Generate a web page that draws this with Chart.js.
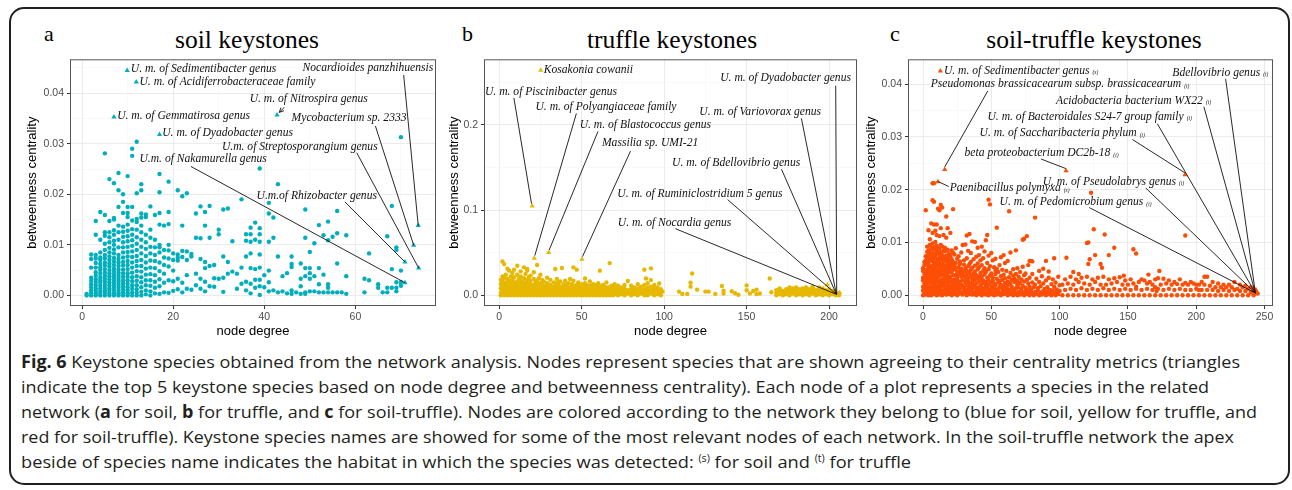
<!DOCTYPE html>
<html>
<head>
<meta charset="utf-8">
<script src="https://cdn.jsdelivr.net/npm/chart.js@4.4.1/dist/chart.umd.min.js"></script>
<style>
  body { margin: 0; background: #fff; width: 1292px; height: 490px; position: relative; overflow: hidden; }
  .frame { position: absolute; left: 9px; top: 7px; width: 1277px; height: 474px; border: 2px solid #231f20; border-radius: 15px; }
  canvas { position: absolute; }
  .title, .letter { position: absolute; font-family: "Liberation Serif", "Times New Roman", serif; color: #000; line-height: 1; white-space: nowrap; }
  .title { font-size: 25.5px; transform: translateX(-50%); top: 27px; }
  .letter { font-size: 22px; top: 23px; }
  .cap { position: absolute; left: 21px; font-family: "Open Sans", "Liberation Sans", sans-serif; font-size: 17px; line-height: 1; color: #231f20; white-space: nowrap; transform-origin: 0 0; }
  .cap sup { font-size: 10px; vertical-align: 6px; line-height: 0; }
</style>
</head>
<body>
<div class="frame"></div>

<div class="letter" style="left:44px">a</div>
<div class="letter" style="left:462px">b</div>
<div class="letter" style="left:890px">c</div>
<div class="title" style="left:247px">soil keystones</div>
<div class="title" style="left:672px">truffle keystones</div>
<div class="title" style="left:1094px">soil-truffle keystones</div>

<canvas id="soilChart" width="415" height="289" style="left:25px;top:50px"></canvas>
<canvas id="truffleChart" width="414" height="289" style="left:447px;top:50px"></canvas>
<canvas id="stChart" width="413" height="289" style="left:864px;top:50px"></canvas>

<div class="cap" style="top:353px" data-w="1219"><b>Fig. 6</b> Keystone species obtained from the network analysis. Nodes represent species that are shown agreeing to their centrality metrics (triangles</div>
<div class="cap" style="top:378px" data-w="1188">indicate the top 5 keystone species based on node degree and betweenness centrality). Each node of a plot represents a species in the related</div>
<div class="cap" style="top:403px" data-w="1236">network (<b>a</b> for soil, <b>b</b> for truffle, and <b>c</b> for soil-truffle). Nodes are colored according to the network they belong to (blue for soil, yellow for truffle, and</div>
<div class="cap" style="top:428px" data-w="1213">red for soil-truffle). Keystone species names are showed for some of the most relevant nodes of each network. In the soil-truffle network the apex</div>
<div class="cap" style="top:453px" data-w="890">beside of species name indicates the habitat in which the species was detected: <sup>(s)</sup> for soil and <sup>(t)</sup> for truffle</div>

<script>
// node degree, [betweenness centrality values x 1e-3]
const soilColumns = [
  [1, [0, 0.3]],
  [2, [0, 0.5, 1.0, 1.6, 2.2, 2.9, 3.5, 5.5, 7.2, 8.1]],
  [3, [0, 0.4, 0.9, 1.4, 2.0, 2.6, 3.2, 3.9, 4.6, 5.5, 6.4, 7.3, 8.0, 12.0, 14.7]],
  [4, [0, 0.3, 0.8, 1.3, 1.9, 2.5, 3.0, 3.6, 4.3, 5.0, 5.5, 6.2, 7.0, 7.5, 8.5, 11.0, 16.5]],
  [5, [0, 0.5, 1.0, 1.5, 2.1, 2.7, 3.3, 3.9, 4.5, 5.2, 5.9, 6.5, 7.3, 8.0, 9.0, 10.2, 11.8, 12.5, 15.9, 28.1]],
  [6, [0, 0.4, 0.9, 1.4, 2.0, 2.6, 3.2, 3.8, 4.4, 5.0, 5.7, 6.3, 7.0, 7.7, 8.5, 9.4, 10.5, 11.5, 12.5, 14.7, 23.0]],
  [7, [0, 0.5, 1.1, 1.7, 2.3, 2.9, 3.5, 4.1, 4.7, 5.3, 6.0, 6.7, 7.4, 8.3, 9.1, 10.0, 10.8, 12.0, 12.9, 15.0, 15.3, 22.2]],
  [8, [0, 0.4, 0.9, 1.5, 2.1, 2.7, 3.3, 3.9, 4.5, 5.1, 5.8, 6.5, 7.2, 8.0, 9.5, 11.0, 12.5, 13.8, 17.5, 20.8, 24.2]],
  [9, [0, 0.6, 1.2, 1.8, 2.4, 3.0, 3.7, 4.4, 5.1, 5.9, 6.6, 7.5, 8.5, 9.5, 10.5, 11.6, 12.6, 13.6, 16.3, 18.5, 20.0]],
  [10, [0, 0.4, 1.0, 1.6, 2.3, 3.0, 3.7, 4.4, 5.2, 6.0, 6.8, 7.7, 8.6, 9.6, 10.7, 11.7, 12.8, 14.0, 15.5, 16.3, 17.5, 23.6]],
  [11, [0, 0.6, 1.3, 2.0, 2.8, 3.6, 4.5, 5.5, 6.5, 7.6, 8.7, 9.8, 10.9, 12.0, 13.1, 14.8, 17.5, 27.6, 29.0]],
  [12, [0, 0.5, 1.2, 2.0, 2.9, 3.8, 4.8, 5.8, 6.8, 7.8, 9.0, 10.2, 11.5, 13.0, 14.5, 15.1, 20.2, 30.4]],
  [13, [0, 0.7, 1.6, 2.6, 3.6, 4.7, 5.8, 7.0, 8.3, 9.6, 11.0, 12.5, 13.8, 15.4, 16.2, 20.8, 22.0]],
  [14, [0.2, 1.0, 2.0, 3.0, 4.1, 5.3, 6.5, 7.8, 9.2, 10.5, 12.0, 15.5, 16.0]],
  [15, [0, 0.8, 1.9, 3.0, 4.2, 5.5, 6.9, 8.3, 9.6, 11.4, 13.0, 17.6]],
  [16, [0.4, 1.5, 2.7, 4.0, 5.4, 6.8, 8.0, 9.5, 11.0, 15.9]],
  [17, [0.3, 1.8, 3.2, 4.8, 6.5, 8.5, 9.5, 10.0, 14.0, 16.3, 20.4, 24.0]],
  [18, [0.6, 2.5, 4.3, 6.0, 7.5, 9.0, 13.8]],
  [19, [0.5, 3.0, 5.7, 7.3, 8.9, 10.0, 14.1, 16.5, 22.5]],
  [20, [0.9, 2.8, 4.9, 7.0, 8.3]],
  [21, [1.2, 3.3, 6.9, 7.5, 8.1, 20.8]],
  [22, [0.6, 2.5, 7.6, 8.8, 13.8, 19.6]],
  [23, [1.3, 4.0, 7.0, 8.7, 20.2]],
  [24, [1.1, 7.7, 8.2]],
  [25, [2.0, 4.3, 11.4, 16.2]],
  [26, [1.3, 3.3, 7.2, 11.3, 17.6]],
  [27, [0.8, 2.7, 5.4, 6.6, 13.8, 16.5]],
  [28, [1.8, 5.8, 11.4, 17.7]],
  [29, [1.7, 3.4, 6.0]],
  [30, [3.3, 12.1, 13.0]],
  [31, [0.7, 3.5, 7.7, 17.0]],
  [32, [4.3, 6.6, 17.2]],
  [33, [4.7, 10.7]],
  [34, [4.3, 1.3]],
  [35, [19.0, 5.5, 2.3]],
  [36, [12.1, 10.8, 7.7, 2.7, 1.0]],
  [37, [13.4, 12.1, 10.6, 8.3, 5.4, 2.3, 0.4]],
  [38, [14.4, 11.0, 5.2, 3.1, 1.5]],
  [39, [25.1, 13.3, 12.1, 10.6, 8.1, 5.5, 3.1, 1.8, 0.1]],
  [40, [1.6, 4.0]],
  [41, [18.3, 16.2, 10.6, 4.9, 2.6, 0.8]],
  [42, [15.4, 11.4, 1.0]],
  [43, [22.0, 7.7, 0.6]],
  [44, [3.8, 0.8]],
  [45, [4.4, 0.4]],
  [46, [7.7, 6.2, 5.6, 1.0, 0.3]],
  [47, [0.6]],
  [48, [6.3, 3.3, 1.8, 0.3]],
  [49, [17.0, 11.4, 5.4, 3.8, 0.6, 0.3]],
  [50, [8.6, 5.4, 4.4, 3.3, 0.8]],
  [51, [10.3, 3.8, 0.8]],
  [52, [13.9, 5.4, 2.2, 0.6]],
  [53, [11.9, 4.1, 0.6]],
  [54, [14.6, 10.9, 2.2, 1.5, 0.6]],
  [55, [11.6, 0.6]],
  [56, [16.7, 12.3, 6.3, 0.6]],
  [57, [0.6]],
  [58, [11.9, 3.8, 0.3]],
  [62, [3.3, 0.6]],
  [63, [8.3, 3.0]],
  [65, [2.2, 1.5]],
  [66, [0.6]],
  [67, [11.7, 1.5, 0.6]],
  [68, [17.7, 5.2, 1.5]],
  [69, [9.5, 9.0, 2.6, 1.5, 0.8]],
  [70, [31.3, 4.9, 2.6, 1.9]]
];
const soilKeystones = [[9.9, 44.5], [11.9, 42.2], [7.0, 35.3], [17.0, 31.8], [42.8, 35.7],
  [73.8, 13.8], [72.8, 9.9], [73.9, 5.4], [70.9, 6.6], [70.9, 2.5]];

const truffleColumns = [
  [1, [0, 3, 8, 13, 18]], [2, [1, 5, 10, 16, 22, 39.6]], [3, [0, 4, 7, 12, 20, 36.5]], [4, [2, 6, 9, 15, 24]],
  [5, [0, 3, 8, 13, 19, 31]], [6, [1, 5, 11, 17, 28.8]], [7, [0, 4, 7, 10, 14, 22]], [8, [2, 6, 12, 18, 26]],
  [9, [0, 3, 9, 15, 21, 30]], [10, [1, 5, 8, 13]], [11, [0, 4, 10, 16, 24, 34.6]], [12, [2, 7, 12, 19]],
  [13, [0, 3, 6, 9, 14, 22, 28]], [14, [1, 5, 11, 17]], [15, [0, 4, 8, 13, 20, 32.7]], [16, [2, 6, 10, 15, 25]],
  [17, [0, 3, 7, 12, 18, 29, 30.8]], [18, [1, 5, 9, 14, 21]], [19, [0, 4, 8, 13, 17, 23]], [20, [2, 6, 10]],
  [21, [0, 3, 7, 12, 19, 27]], [22, [1, 5, 9, 15]], [23, [0, 4, 8, 11, 17, 35.4]], [24, [2, 6, 13, 20]],
  [25, [0, 3, 9, 14, 24]], [26, [1, 5, 8, 12, 18]], [27, [0, 4, 10, 16]], [28, [2, 6, 11]],
  [29, [0, 3, 8, 14, 20.6]], [30, [1, 5, 9, 13]], [31, [0, 4, 7, 12, 18]], [32, [2, 6, 10]],
  [33, [0, 3, 8, 15]], [34, [1, 5, 11, 30.8]], [35, [0, 4, 9, 14, 19]], [36, [2, 7, 12]],
  [37, [0, 3, 6, 10, 16]], [38, [1, 5, 9, 32]], [39, [0, 4, 8, 13]], [40, [2, 6, 11, 17]],
  [41, [0, 3, 7, 12]], [42, [1, 5, 9, 14]], [43, [0, 4, 8, 19]], [44, [2, 6, 10, 13]],
  [45, [0, 3, 7, 11, 17, 32.7]], [46, [1, 5, 9]], [47, [0, 4, 8, 12, 30]], [48, [2, 6, 10, 15]],
  [49, [0, 3, 7, 11]], [50, [1, 5, 9, 13]], [51, [0, 4, 8]], [52, [2, 6, 10, 14, 19.6]],
  [53, [0, 3, 7, 12]], [54, [1, 5, 9]], [55, [0, 4, 8, 11, 16]], [56, [2, 6, 10]],
  [57, [0, 3, 7, 13]], [58, [1, 5, 9, 12]], [59, [0, 4, 8]], [60, [2, 6, 10, 14]],
  [61, [0, 3, 7, 11, 28.8]], [62, [1, 5, 9]], [63, [0, 4, 8, 12]], [64, [2, 6, 10]],
  [65, [0, 3, 7, 15]], [66, [1, 5, 9]], [67, [0, 4, 8, 37.7]], [68, [2, 6, 11]],
  [69, [0, 3, 7]], [70, [1, 5, 9, 13]], [72, [0, 3, 7, 11]], [74, [1, 5, 9]],
  [76, [0, 4, 8, 12]], [78, [2, 6, 16.6]], [80, [0, 3, 7, 11]], [82, [1, 5, 9]],
  [84, [0, 4, 8, 13]], [86, [2, 6, 10]], [88, [0, 3, 7, 12, 30]], [89, [1, 19.6]],
  [90, [0, 5, 9, 14]], [92, [2, 6, 10, 17.7, 31.5]], [94, [0, 4, 8, 12]], [96, [1, 5, 9]],
  [97, [13.8]], [98, [0, 3, 7]], [99, [4.2]],
  [109, [4.2]], [111, [1.5]], [114, [1.5]], [116, [10, 14.6]], [117, [25.4]], [120, [6.5]],
  [125, [4.2]], [127, [4.2]], [131, [1.5]], [135, [10.8]], [136, [5.4, 1.9]], [141, [4.6]],
  [143, [2.3]], [145, [0.5]], [150, [11.5, 5.8]], [152, [2]], [154, [5]], [156, [6.5, 1.2]],
  [158, [1.9]], [164, [19.6]], [165, [3.5]],
  [168, [0, 3, 6]], [170, [1, 4, 8]], [172, [0, 2, 5]], [174, [1, 3, 7]], [176, [0, 4, 6, 9]],
  [178, [2, 5, 8]], [180, [0, 3, 6, 9]], [182, [1, 4, 7]], [184, [0, 2, 5, 8]], [186, [1, 3, 6, 9]],
  [188, [0, 4, 7]], [190, [2, 5, 8, 10]], [192, [0, 3, 6]], [194, [1, 4, 7, 9]], [196, [0, 2, 5, 8]],
  [198, [1, 3, 6]], [200, [0, 4, 7]], [202, [1, 2, 5]], [204, [0, 3]], [206, [0, 2]]
];
const truffleKeystones = [[25.2, 264], [20.0, 104.6], [21.3, 43.5], [30.0, 50.0], [50.2, 42.3],
  [206.4, 3.0], [198.9, 12.3], [204.5, 0.8], [203.5, 1.5], [205.5, 1.0]];

const stColumns = [
  [0, [0, 0.9, 1.6, 2.8, 3.3, 4.6, 5.1]],
  [1, [0.4, 1.2, 2.2, 2.9, 4.0, 5.7, 6.3]],
  [2, [0.1, 0.7, 1.9, 2.5, 3.7, 4.4, 5.9, 6.6, 7.4, 16.1]],
  [3, [0.5, 1.4, 2.0, 3.2, 4.2, 4.9, 6.2, 7.1, 8.2, 9.2]],
  [4, [0, 1.0, 1.5, 2.6, 3.5, 4.7, 5.4, 6.0, 7.6, 8.5, 12.3]],
  [5, [0.3, 1.1, 2.4, 3.0, 4.1, 5.2, 6.6, 7.0, 8.0, 9.5, 10.6]],
  [6, [0, 0.8, 1.7, 2.9, 3.6, 4.5, 5.5, 6.9, 7.8, 8.9, 13.6]],
  [7, [0.6, 1.3, 2.1, 3.4, 4.3, 5.0, 6.4, 7.3, 8.6, 9.8, 11.8, 18.0, 21.2]],
  [8, [0.2, 0.9, 2.0, 2.7, 3.8, 4.8, 5.8, 7.0, 7.9, 9.1, 13.4, 17.7, 21.2]],
  [9, [0.4, 1.5, 2.3, 3.1, 4.4, 5.3, 6.2, 7.5, 8.8, 10.1, 12.2]],
  [10, [0, 1.0, 1.8, 3.3, 4.0, 4.7, 6.0, 6.8, 8.3, 9.4, 11.4, 13.4]],
  [11, [0.7, 1.4, 2.6, 3.5, 4.6, 5.6, 6.5, 7.9, 8.9, 16.4]],
  [12, [0.1, 1.2, 2.0, 2.8, 4.2, 5.0, 6.3, 7.2, 8.6, 11.2, 16.1]],
  [13, [0.5, 1.6, 2.5, 3.7, 4.5, 5.8, 7.0, 8.0, 9.5, 12.7, 17.1]],
  [14, [0, 0.9, 2.2, 3.0, 4.4, 5.3, 6.7, 7.6, 9.2, 16.6]],
  [15, [0.6, 1.8, 2.7, 3.9, 4.9, 6.2, 7.1, 8.4, 11.4]],
  [16, [0.3, 1.1, 2.3, 3.4, 4.6, 5.6, 6.9, 8.3, 9.0]],
  [17, [0.1, 1.6, 2.9, 4.0, 5.0, 6.5, 7.5, 10.9, 14.9]],
  [18, [0.8, 1.3, 2.4, 3.6, 4.8, 5.9, 7.2, 8.6, 12.7]],
  [19, [0.2, 1.9, 3.1, 4.3, 5.4, 6.6, 7.9]],
  [20, [0.5, 1.2, 2.6, 3.5, 5.1, 6.1, 7.4, 11.8]],
  [21, [0, 1.7, 2.9, 4.4, 5.7, 6.8, 8.5]],
  [22, [0.6, 1.4, 2.2, 3.8, 4.9, 6.3, 8.0, 16.3]],
  [23, [0.2, 1.1, 2.5, 3.0, 4.9, 5.6, 7.7]],
  [24, [0.6, 1.9, 2.4, 3.8, 5.1, 6.1, 8.9]],
  [25, [0, 1.4, 2.9, 3.3, 4.4, 6.9]],
  [26, [0.9, 1.6, 2.2, 4.0, 5.3, 7.4]],
  [27, [0.3, 1.2, 2.6, 4.6, 5.9, 6.4]],
  [28, [0.5, 2.0, 3.5, 3.9, 5.0, 8.1]],
  [29, [0.1, 1.7, 2.8, 4.2, 9.5]],
  [30, [0.8, 1.3, 3.6, 4.5, 5.8, 6.6]],
  [31, [0.4, 2.3, 3.0, 5.1, 9.6]],
  [32, [0, 1.1, 1.9, 3.9, 4.6, 7.0, 11.3]],
  [33, [0.6, 2.7, 3.3, 5.5, 8.4]],
  [34, [0.2, 1.5, 2.1, 4.3, 5.9, 11.6]],
  [35, [0.9, 1.8, 3.7, 4.8, 6.3, 8.0]],
  [36, [0.1, 1.2, 2.5, 3.1, 5.2, 10.2]],
  [37, [0.5, 2.0, 3.4, 4.1, 6.8]],
  [38, [0.3, 1.6, 2.9, 4.5, 5.6, 10.1]],
  [39, [0, 1.0, 2.2, 3.8, 7.3]],
  [40, [0.7, 1.4, 3.2, 4.9, 6.0, 9.0]],
  [41, [0.2, 2.6, 3.5, 5.3, 7.6]],
  [42, [0.5, 1.1, 1.9, 4.2, 6.6]],
  [43, [0, 1.5, 3.0, 3.6, 5.7, 9.2]],
  [44, [0.8, 2.3, 2.8, 4.6, 7.0]],
  [45, [0.3, 1.2, 3.9, 5.1, 8.3]],
  [46, [0.1, 1.8, 2.5, 4.4, 10.4]],
  [47, [0.6, 1.4, 3.3, 6.1, 11.4]],
  [48, [0, 2.1, 2.9, 4.9, 7.5, 18.1]],
  [49, [0.4, 1.0, 3.7, 5.5, 17.2]],
  [50, [0.2, 1.6, 2.4, 4.1, 8.0]],
  [51, [0.7, 2.8, 3.4, 6.6]],
  [52, [0, 1.3, 2.2, 5.3]],
  [53, [0.5, 1.9, 4.0, 4.7, 6.9]],
  [54, [0.1, 1.1, 3.1, 5.0, 12.8]],
  [55, [0.8, 2.4, 4.4]],
  [56, [0.3, 1.5, 2.7, 5.7]],
  [57, [0, 2.0, 3.6, 7.2]],
  [58, [0.6, 1.2, 2.9, 4.8]],
  [59, [0.2, 1.7, 3.9, 7.6]],
  [60, [0.9, 2.3, 3.2, 6.1]],
  [61, [0.4, 1.4, 4.6]],
  [62, [0, 1.9, 2.6, 6.5]],
  [63, [0.7, 1.1, 3.4, 15.9]],
  [64, [0.2, 2.2, 4.2, 8.1]],
  [65, [0.5, 1.6, 2.9]],
  [66, [0, 1.0, 3.7, 4.9]],
  [67, [0.8, 2.5, 3.1]],
  [68, [0.3, 1.3, 4.0, 8.5]],
  [69, [0, 2.0, 2.7, 5.1]],
  [70, [0.6, 1.5, 3.5]],
  [71, [0.1, 2.3, 4.4]],
  [72, [0.9, 1.2, 3.0]],
  [73, [0.4, 1.8, 5.4, 10.5]],
  [74, [0, 2.6, 3.8, 10.7]],
  [75, [0.7, 1.4, 4.1]],
  [76, [0.2, 1.0, 2.9, 11.2]],
  [77, [0.5, 2.2, 5.7]],
  [78, [0, 1.6, 3.3, 6.5]],
  [79, [0.8, 1.1, 6.5]],
  [80, [0.3, 2.4, 4.0, 6.4]],
  [81, [0, 1.5]], [82, [0.6, 2.0, 14.7]], [83, [0.2, 3.1]], [84, [0.9, 1.3]], [85, [0, 2.5, 4.6]],
  [86, [0.5, 1.7]], [87, [0.1, 3.6]], [88, [0.8, 2.2, 5.0]], [89, [0.3, 1.2]], [90, [0, 2.8, 6.5]],
  [91, [0.7, 1.5]], [92, [0.2, 3.3, 4.5]], [93, [0.4, 1.0]], [94, [0, 2.1]], [95, [0.9, 3.0]],
  [96, [0.3, 1.6, 7.0]], [97, [0, 2.4]], [98, [0.6, 1.1]], [99, [0.2, 3.5]], [100, [0.8, 1.9]],
  [102, [0, 2.0]], [104, [1.0, 3.0]], [105, [7.1]], [106, [0, 2.2]],
  [108, [1.2, 3.5]], [110, [0, 2.0, 4.4]], [112, [1.0, 3.0]], [114, [0, 2.5, 4.0]],
  [116, [1.3, 3.3]], [118, [0, 2.2]], [120, [1.0, 3.5, 9.9]], [121, [10.0, 5.9]],
  [122, [0, 2.0, 6.8]], [123, [19.4]], [124, [1.2, 3.0]], [125, [12.5]], [126, [0, 2.5, 7.6]],
  [128, [1.0, 3.3]], [130, [0, 2.0, 5.9]], [131, [5.2]], [132, [1.3, 3.5]], [133, [11.5]],
  [134, [0, 2.0]], [136, [1.0, 3.0, 7.6]], [138, [0, 2.2]], [140, [1.2, 3.2, 9.0]],
  [142, [0, 2.5]], [144, [1.0, 3.4]], [146, [0, 2.0]], [147, [3.7]], [148, [1.2, 2.8]],
  [150, [0, 2.0]], [152, [1.0, 3.0]], [154, [0, 2.2, 8.7]], [156, [1.2, 1.6, 7.9]],
  [158, [0, 2.5]], [160, [1.0, 3.0]], [162, [0, 2.8]], [164, [1.2, 2.2]], [165, [3.9]],
  [166, [0, 2.5]], [168, [1.0, 2.0]], [170, [0, 1.5, 3.0]], [171, [0.8]], [172, [1.2, 3.2]],
  [173, [4.6]], [174, [0, 2.0]], [176, [1.0, 3.1]], [178, [0, 2.2]], [180, [1.2, 2.8]],
  [182, [0, 2.0]], [184, [1.0, 2.5]], [186, [0, 2.1]], [188, [1.2, 3.0]], [190, [0, 2.0]],
  [192, [11.3, 1.0, 2.3]], [194, [0, 2.0]], [196, [1.0, 2.5]], [198, [0, 2.2]], [200, [1.2, 2.0]],
  [202, [0, 1.0, 2.0]], [204, [1.0, 2.5]], [206, [0, 2.0, 3.5]], [208, [1.0, 3.5]], [210, [0, 1.8]],
  [212, [1.0, 2.5]], [214, [0, 1.5]], [216, [0.8, 2.2]], [218, [0, 1.5]], [220, [1.0, 2.0]],
  [222, [0, 1.5]], [224, [0.8, 2.0]], [226, [0, 1.5]], [228, [1.0, 2.5]], [230, [0, 1.2]],
  [232, [0.8, 2.0]], [234, [0, 1.5]], [236, [0.8, 1.8]], [238, [0, 1.2]], [240, [0.5, 1.5]],
  [242, [0, 1.0]], [244, [0.5]], [245, [0.3]]
];
const stKeystones = [[12.7, 42.5], [15.9, 23.8], [10.9, 21.5], [104.7, 23.6], [191.8, 22.8],
  [243.3, 0.6], [242.5, 1.2], [244.0, 0.3], [241.5, 0.8], [243.8, 1.0]];

// species names: text position, leader line start / end (node degree, betweenness)
const soilLabels = [
  { text: 'U. m. of Sedimentibacter genus', at: [10.7, 0.0447] },
  { text: 'U. m. of Acidiferrobacteraceae family', at: [12.6, 0.0422] },
  { text: 'U. m. of Gemmatirosa genus', at: [7.7, 0.0355] },
  { text: 'U. m. of Dyadobacter genus', at: [17.6, 0.0321] },
  { text: 'U. m. of Nitrospira genus', at: [36.8, 0.0389], from: [44.4, 0.0372], to: [43.3, 0.0362], arrow: true },
  { text: 'Nocardioides panzhihuensis', at: [48.4, 0.0449], from: [70.6, 0.0436], to: [73.8, 0.0138] },
  { text: 'Mycobacterium sp. 2333', at: [46.0, 0.0350], from: [64.4, 0.0335], to: [72.8, 0.0099] },
  { text: 'U.m. of Streptosporangium genus', at: [30.7, 0.0294], from: [60.3, 0.0282], to: [73.9, 0.0054] },
  { text: 'U.m.of Rhizobacter genus', at: [38.3, 0.0197], from: [57.7, 0.0185], to: [70.9, 0.0066] },
  { text: 'U.m. of Nakamurella genus', at: [12.6, 0.0269], from: [23.9, 0.0255], to: [70.9, 0.0025] }
];
const truffleLabels = [
  { text: 'Kosakonia cowanii', at: [27.0, 0.264] },
  { text: 'U. m. of Piscinibacter genus', at: [-8.6, 0.2391], from: [8.9, 0.2318], to: [19.6, 0.1075] },
  { text: 'U. m. of Polyangiaceae family', at: [22.0, 0.2211], from: [46.8, 0.2134], to: [21.6, 0.0465] },
  { text: 'U. m. of Blastococcus genus', at: [48.8, 0.1999], from: [59.9, 0.1923], to: [30.3, 0.053] },
  { text: 'Massilia sp. UMI-21', at: [62.3, 0.1788], from: [79.6, 0.1692], to: [50.5, 0.0453] },
  { text: 'U. m. of Dyadobacter genus', at: [134.0, 0.2549], from: [204.0, 0.246], to: [204.6, 0.001] },
  { text: 'U. m. of Variovorax genus', at: [121.3, 0.2153], from: [183.2, 0.2076], to: [204.4, 0.001] },
  { text: 'U. m. of Bdellovibrio genus', at: [104.8, 0.1557], from: [171.1, 0.148], to: [204.4, 0.001] },
  { text: 'U. m. of Ruminiclostridium 5 genus', at: [71.6, 0.1185], from: [138.5, 0.1122], to: [204.4, 0.001] },
  { text: 'U. m. of Nocardia genus', at: [71.9, 0.0854], from: [106.8, 0.0781], to: [204.4, 0.001] }
];
const stLabels = [
  { text: 'U. m. of Sedimentibacter genus', tag: 's', at: [15.3, 0.0425] },
  { text: 'Pseudomonas brassicacearum subsp. brassicacearum', tag: 't', at: [5.6, 0.0400], from: [47.4, 0.0387], to: [15.9, 0.0243] },
  { text: 'Bdellovibrio genus', tag: 't', at: [182.5, 0.0422], from: [221.5, 0.041], to: [243.3, 0.0004] },
  { text: 'Acidobacteria bacterium WX22', tag: 't', at: [97.4, 0.0368], from: [205.6, 0.0357], to: [243.3, 0.0004] },
  { text: 'U. m. of Bacteroidales S24-7 group family', tag: 't', at: [47.2, 0.0338], from: [171.5, 0.0325], to: [243.3, 0.0004] },
  { text: 'U. m. of Saccharibacteria phylum', tag: 't', at: [41.4, 0.0307], from: [153.3, 0.0295], to: [191.6, 0.0232] },
  { text: 'beta proteobacterium DC2b-18', tag: 't', at: [30.4, 0.0269], from: [86.4, 0.0258], to: [104.5, 0.0240] },
  { text: 'U. m. of Pseudolabrys genus', tag: 't', at: [87.6, 0.0215], from: [163.1, 0.0203], to: [243.3, 0.0004] },
  { text: 'Paenibacillus polymyxa', tag: 's', at: [19.5, 0.0203], from: [18.8, 0.0206], to: [11.3, 0.0215] },
  { text: 'U. m. of Pedomicrobium genus', tag: 't', at: [56.0, 0.0176], from: [121.7, 0.0166], to: [243.3, 0.0004] }
];

function unpack(cols) {
  var pts = [];
  cols.forEach(function (c) {
    c[1].forEach(function (v) { pts.push({ x: c[0], y: v / 1000 }); });
  });
  return pts;
}
function pairs(list) {
  return list.map(function (p) { return { x: p[0], y: p[1] / 1000 }; });
}
function isMajor(v, major) {
  var r = v / major;
  return Math.abs(r - Math.round(r)) < 1e-6;
}

// panel border + species names with leader lines
const annotate = {
  id: 'annotate',
  afterDatasetsDraw(chart, args, opts) {
    var ctx = chart.ctx, a = chart.chartArea, xs = chart.scales.x, ys = chart.scales.y;
    ctx.save();
    ctx.strokeStyle = '#555';
    ctx.lineWidth = 1;
    ctx.strokeRect(a.left + 0.5, a.top + 0.5, a.right - a.left - 1, a.bottom - a.top - 1);
    ctx.strokeStyle = '#111';
    ctx.lineWidth = 0.9;
    opts.items.forEach(function (it) {
      if (it.from) {
        var x1 = xs.getPixelForValue(it.from[0]), y1 = ys.getPixelForValue(it.from[1]);
        var x2 = xs.getPixelForValue(it.to[0]), y2 = ys.getPixelForValue(it.to[1]);
        ctx.beginPath(); ctx.moveTo(x1, y1); ctx.lineTo(x2, y2); ctx.stroke();
        if (it.arrow) {
          var ang = Math.atan2(y2 - y1, x2 - x1);
          ctx.beginPath();
          ctx.moveTo(x2, y2);
          ctx.lineTo(x2 - 5 * Math.cos(ang - 0.45), y2 - 5 * Math.sin(ang - 0.45));
          ctx.moveTo(x2, y2);
          ctx.lineTo(x2 - 5 * Math.cos(ang + 0.45), y2 - 5 * Math.sin(ang + 0.45));
          ctx.stroke();
        }
      }
      var tx = xs.getPixelForValue(it.at[0]), ty = ys.getPixelForValue(it.at[1]);
      ctx.font = 'italic 11.6px "Liberation Serif", "Times New Roman", serif';
      ctx.fillStyle = '#111';
      ctx.textAlign = 'left';
      ctx.textBaseline = 'middle';
      ctx.fillText(it.text, tx, ty);
      if (it.tag) {
        var w = ctx.measureText(it.text).width;
        ctx.font = 'italic 5.5px "Liberation Serif", "Times New Roman", serif';
        ctx.fillText('(' + it.tag + ')', tx + w + 3, ty + 2);
      }
    });
    ctx.restore();
  }
};

function makePanel(id, cfg) {
  var tickFont = { family: '"Liberation Sans", Arial, sans-serif', size: 10.5 };
  var titleFont = { family: '"Liberation Sans", Arial, sans-serif', size: 13 };
  function axisGrid(major) {
    return {
      color: function (c) { return isMajor(c.tick.value, major) ? '#ebebeb' : '#f5f5f5'; },
      lineWidth: function (c) { return isMajor(c.tick.value, major) ? 1 : 0.6; },
      tickColor: function (c) { return isMajor(c.tick.value, major) ? '#333' : 'rgba(0,0,0,0)'; },
      tickLength: 3
    };
  }
  return new Chart(document.getElementById(id), {
    type: 'scatter',
    data: {
      datasets: [
        { data: pairs(cfg.keystones), pointStyle: 'triangle', pointRadius: 3, backgroundColor: cfg.color, borderWidth: 0 },
        { data: unpack(cfg.columns), pointStyle: 'circle', pointRadius: 2.2, backgroundColor: cfg.color, borderWidth: 0 }
      ]
    },
    options: {
      responsive: false,
      animation: false,
      devicePixelRatio: 1,
      events: [],
      layout: { padding: { top: 5, right: 3, left: 0, bottom: 0 } },
      plugins: {
        legend: { display: false },
        tooltip: { enabled: false },
        annotate: { items: cfg.labels }
      },
      scales: {
        x: {
          type: 'linear',
          min: cfg.xMin, max: cfg.xMax,
          afterFit: function (s) { s.height = 33; },
          border: { display: false },
          grid: axisGrid(cfg.xMajor),
          ticks: {
            stepSize: cfg.xMajor / 2, includeBounds: false, autoSkip: false, maxRotation: 0,
            padding: 2, color: '#4d4d4d', font: tickFont,
            callback: function (v) { return isMajor(v, cfg.xMajor) ? String(Math.round(v)) : ''; }
          },
          title: { display: true, text: 'node degree', color: '#000', font: titleFont, padding: { top: 0, bottom: 0 } }
        },
        y: {
          type: 'linear',
          min: cfg.yMin, max: cfg.yMax,
          afterFit: function (s) { s.width = cfg.yWidth; },
          border: { display: false },
          grid: axisGrid(cfg.yMajor),
          ticks: {
            stepSize: cfg.yMajor / 2, includeBounds: false, autoSkip: false,
            padding: 3, color: '#4d4d4d', font: tickFont,
            callback: function (v) { return isMajor(v, cfg.yMajor) ? v.toFixed(cfg.yDigits) : ''; }
          },
          title: { display: true, text: 'betweenness centrality', color: '#000', font: titleFont, padding: { top: 0, bottom: 0 } }
        }
      }
    },
    plugins: [annotate]
  });
}

makePanel('soilChart', {
  columns: soilColumns, keystones: soilKeystones, labels: soilLabels, color: '#00AFBB',
  xMin: -2.65, xMax: 77.7, xMajor: 20, yMin: -0.0021, yMax: 0.0467, yMajor: 0.01, yDigits: 2, yWidth: 45
});
makePanel('truffleChart', {
  columns: truffleColumns, keystones: truffleKeystones, labels: truffleLabels, color: '#E7B800',
  xMin: -9.2, xMax: 216.9, xMajor: 50, yMin: -0.0127, yMax: 0.277, yMajor: 0.1, yDigits: 1, yWidth: 37
});
makePanel('stChart', {
  columns: stColumns, keystones: stKeystones, labels: stLabels, color: '#FC4E07',
  xMin: -11, xMax: 256.2, xMajor: 50, yMin: -0.00205, yMax: 0.0447, yMajor: 0.01, yDigits: 2, yWidth: 44
});

// caption lines are fitted to the width they have in the figure
document.querySelectorAll('.cap').forEach(function (el) {
  var w = el.getBoundingClientRect().width;
  el.style.transform = 'scaleX(' + (Number(el.dataset.w) / w) + ')';
});
</script>
</body>
</html>
